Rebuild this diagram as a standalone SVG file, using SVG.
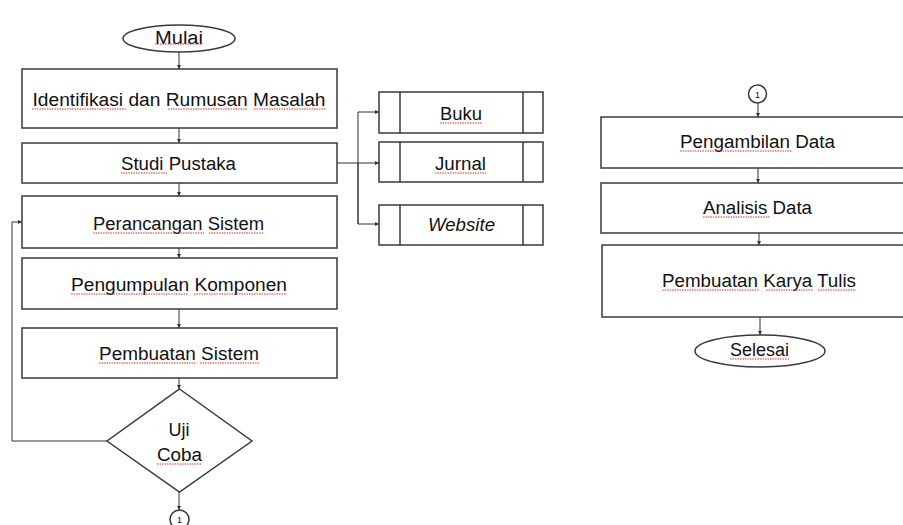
<svg xmlns="http://www.w3.org/2000/svg" width="903" height="525" viewBox="0 0 903 525">
<style>
.n{fill:#fff;stroke:#3a3a3a;stroke-width:1.5}
.t{font-family:"Liberation Sans",Arial,sans-serif;font-size:18px;fill:#111;text-anchor:middle}
.i{font-style:italic}
.c{fill:none;stroke:#333;stroke-width:1}
.s{fill:none;stroke:#e0302c;stroke-width:1;stroke-dasharray:1.5 1}
.cn{font-family:"Liberation Sans",Arial,sans-serif;font-size:9px;fill:#111;text-anchor:middle}
</style>
<defs>
<marker id="a" viewBox="0 0 6 6" refX="6" refY="3" markerWidth="4" markerHeight="4" orient="auto" markerUnits="userSpaceOnUse"><path d="M0,0L6,3L0,6z" fill="#333"/></marker>
</defs>
<rect width="903" height="525" fill="#fff"/>
<g id="connectors">
<path class="c" d="M179,52V69" marker-end="url(#a)"/>
<path class="c" d="M179,128V143" marker-end="url(#a)"/>
<path class="c" d="M179,183V196" marker-end="url(#a)"/>
<path class="c" d="M179,248V258" marker-end="url(#a)"/>
<path class="c" d="M179,309V328" marker-end="url(#a)"/>
<path class="c" d="M179,378V389" marker-end="url(#a)"/>
<path class="c" d="M179,492V510" marker-end="url(#a)"/>
<path class="c" d="M107,441H12V222H22" marker-end="url(#a)"/>
<path class="c" d="M337,163H379" marker-end="url(#a)"/>
<path class="c" d="M358,224V112H379" marker-end="url(#a)"/>
<path class="c" d="M358,163V224H379" marker-end="url(#a)"/>
<path class="c" d="M758,103V117" marker-end="url(#a)"/>
<path class="c" d="M758,168V183" marker-end="url(#a)"/>
<path class="c" d="M759,233V245" marker-end="url(#a)"/>
<path class="c" d="M760,317V335" marker-end="url(#a)"/>
</g>
<g id="mulai"><ellipse class="n" cx="179" cy="38.5" rx="56" ry="13.5"/><text class="t" x="179" y="44" textLength="48" lengthAdjust="spacingAndGlyphs">Mulai</text><path class="s" d="M155,44H203"/></g>
<g id="identifikasi"><rect class="n" x="22" y="69" width="315" height="59"/><text class="t" x="179" y="106" textLength="293" lengthAdjust="spacingAndGlyphs">Identifikasi dan Rumusan Masalah</text><path class="s" d="M32,109H126M168,109H248M254,109H326"/></g>
<g id="studi"><rect class="n" x="22" y="143" width="315" height="40"/><text class="t" x="178.5" y="170" textLength="115" lengthAdjust="spacingAndGlyphs">Studi Pustaka</text><path class="s" d="M121,173H167"/></g>
<g id="perancangan"><rect class="n" x="22" y="196" width="315" height="52"/><text class="t" x="178.5" y="230" textLength="171" lengthAdjust="spacingAndGlyphs">Perancangan Sistem</text><path class="s" d="M93,233H204M209,233H264"/></g>
<g id="pengumpulan"><rect class="n" x="22" y="258" width="315" height="51"/><text class="t" x="179" y="291" textLength="216" lengthAdjust="spacingAndGlyphs">Pengumpulan Komponen</text><path class="s" d="M71,294H188M194,294H287"/></g>
<g id="pembuatan"><rect class="n" x="22" y="328" width="315" height="50"/><text class="t" x="179" y="360" textLength="160" lengthAdjust="spacingAndGlyphs">Pembuatan Sistem</text><path class="s" d="M99,363H196M200,363H259"/></g>
<g id="ujicoba"><path class="n" d="M179.5,389L252,441L179.5,492L107,441Z"/><text class="t" x="179" y="436">Uji</text><text class="t" x="179.5" y="461" textLength="45" lengthAdjust="spacingAndGlyphs">Coba</text><path class="s" d="M157,464H202"/></g>
<g id="con1a"><circle class="n" cx="179.5" cy="519.5" r="9.5" stroke-width="1"/><text class="cn" x="179.5" y="523">1</text></g>
<g id="buku"><rect class="n" x="379" y="92" width="164" height="41"/><path class="n" d="M400,92V133M523,92V133"/><text class="t" x="461" y="120" textLength="42" lengthAdjust="spacingAndGlyphs">Buku</text><path class="s" d="M440,123H482"/></g>
<g id="jurnal"><rect class="n" x="379" y="142" width="164" height="40"/><path class="n" d="M400,142V182M523,142V182"/><text class="t" x="460.5" y="170" textLength="51" lengthAdjust="spacingAndGlyphs">Jurnal</text><path class="s" d="M435,173H486"/></g>
<g id="website"><rect class="n" x="379" y="205" width="164" height="40"/><path class="n" d="M400,205V245M523,205V245"/><text class="t i" x="461.5" y="231" textLength="67" lengthAdjust="spacingAndGlyphs">Website</text></g>
<g id="con1b"><circle class="n" cx="757.5" cy="94" r="9" stroke-width="1"/><text class="cn" x="757.5" y="97.5">1</text></g>
<g id="pengambilan"><rect class="n" x="601" y="117" width="316" height="51"/><text class="t" x="757.5" y="148" textLength="155" lengthAdjust="spacingAndGlyphs">Pengambilan Data</text><path class="s" d="M680,151H792"/></g>
<g id="analisis"><rect class="n" x="601" y="183" width="316" height="50"/><text class="t" x="757.5" y="214" textLength="109" lengthAdjust="spacingAndGlyphs">Analisis Data</text><path class="s" d="M703,217H770"/></g>
<g id="karya"><rect class="n" x="602" y="245" width="316" height="72"/><text class="t" x="759" y="287" textLength="194" lengthAdjust="spacingAndGlyphs">Pembuatan Karya Tulis</text><path class="s" d="M662,290H759M766,290H813M818,290H856"/></g>
<g id="selesai"><ellipse class="n" cx="760" cy="351" rx="65" ry="16"/><text class="t" x="759.5" y="356" textLength="59" lengthAdjust="spacingAndGlyphs">Selesai</text><path class="s" d="M730,359H789"/></g>
</svg>
